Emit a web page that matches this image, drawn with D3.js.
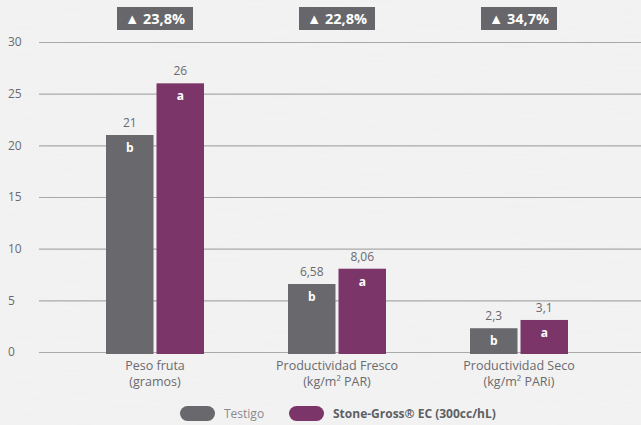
<!DOCTYPE html>
<html><head><meta charset="utf-8">
<script src="https://cdn.jsdelivr.net/npm/d3@7/dist/d3.min.js"></script>
<style>
html,body{margin:0;padding:0;background:#f1f1f1;}
svg{display:block;}
text{font-family:"Open Sans","Noto Sans",sans-serif;}
</style></head>
<body>
<svg id="c" width="641" height="425"></svg>
<script>
const categories = ["Peso fruta|(gramos)", "Productividad Fresco|(kg/m² PAR)", "Productividad Seco|(kg/m² PARi)"];
const testigo = [21, 6.58, 2.3];
const stone = [26, 8.06, 3.1];
const testigoLabels = ["21", "6,58", "2,3"];
const stoneLabels = ["26", "8,06", "3,1"];
const testigoLetters = ["b", "b", "b"];
const stoneLetters = ["a", "a", "a"];
const increases = ["▲ 23,8%", "▲ 22,8%", "▲ 34,7%"];
const yTicks = [0, 5, 10, 15, 20, 25, 30];
const seriesNames = ["Testigo", "Stone-Gross® EC (300cc/hL)"];

const GRAY = "#68686d", PURPLE = "#7b3568", TXT = "#6a6a6e";
const svg = d3.select("#c");

const defs = svg.append("defs");
const f = defs.append("filter").attr("id","tex");
f.append("feTurbulence").attr("type","fractalNoise").attr("baseFrequency","0.02 0.6").attr("numOctaves",2).attr("seed",3);
f.append("feColorMatrix").attr("values","0 0 0 0 0.85  0 0 0 0 0.85  0 0 0 0 0.85  0 0 0 0.18 0");
svg.append("rect").attr("width",641).attr("height",425).attr("fill","#f2f2f2");
svg.append("rect").attr("width",641).attr("height",425).attr("filter","url(#tex)");

const y = d3.scaleLinear().domain([0,30]).range([352,42]);
const x0 = d3.scaleBand().domain(categories).range([64,610]);
const x1 = d3.scaleBand().domain([0,1]).range([x0.bandwidth()/2-49, x0.bandwidth()/2+49]).paddingInner(0.06);

const yAxis = d3.axisLeft(y).tickValues(yTicks).tickSize(-602).tickFormat(d3.format("d")).tickPadding(14);
const ga = svg.append("g").attr("transform","translate(39,0)").call(yAxis);
ga.select(".domain").remove();
ga.selectAll(".tick line").attr("stroke","#a9a9ab").attr("stroke-width",1.2);
ga.selectAll(".tick text").attr("fill",TXT).attr("font-size",12).attr("text-anchor","start").attr("x",-31);

const groups = svg.append("g").selectAll("g").data(categories).join("g")
  .attr("transform", d => `translate(${x0(d)},0)`);

const series = [
  {vals: testigo, labels: testigoLabels, letters: testigoLetters, color: GRAY},
  {vals: stone, labels: stoneLabels, letters: stoneLetters, color: PURPLE}
];

groups.each(function(cat, i){
  const g = d3.select(this);
  series.forEach((s, j) => {
    const v = s.vals[i];
    const bx = x1(j), bw = x1.bandwidth();
    g.append("rect").attr("x",bx).attr("width",bw).attr("y",y(v)).attr("height",y(0)+2-y(v)).attr("fill",s.color);
    g.append("text").attr("x",bx+bw/2).attr("y",y(v)-8).attr("text-anchor","middle")
      .attr("font-size",12).attr("fill",TXT).text(s.labels[i]);
    g.append("text").attr("x",bx+bw/2).attr("y",y(v)+17).attr("text-anchor","middle")
      .attr("font-size",12).attr("font-weight","bold").attr("fill","#fff").text(s.letters[i]);
  });
  const cx = x0.bandwidth()/2;
  const lines = cat.split("|");
  lines.forEach((l, k) => {
    g.append("text").attr("x",cx).attr("y",370+k*16).attr("text-anchor","middle")
      .attr("font-size",12.5).attr("fill",TXT).text(l);
  });
  g.append("rect").attr("x",cx-38).attr("y",7).attr("width",76).attr("height",23).attr("fill","#67676b");
  g.append("text").attr("x",cx).attr("y",24).attr("text-anchor","middle")
    .attr("font-size",14.5).attr("font-weight","bold").attr("fill","#fff").text(increases[i]);
});

const leg = svg.append("g");
const legX = [180, 289];
seriesNames.forEach((n, j) => {
  leg.append("rect").attr("x",legX[j]).attr("y",406).attr("width",35).attr("height",15).attr("rx",7.5)
    .attr("fill", j===0?GRAY:PURPLE);
  leg.append("text").attr("x",legX[j]+44).attr("y",418).attr("font-size",12)
    .attr("font-weight", j===0?"normal":"bold").attr("fill", j===0?"#8a8a8e":"#5f5f63").text(n);
});
</script>
</body></html>
